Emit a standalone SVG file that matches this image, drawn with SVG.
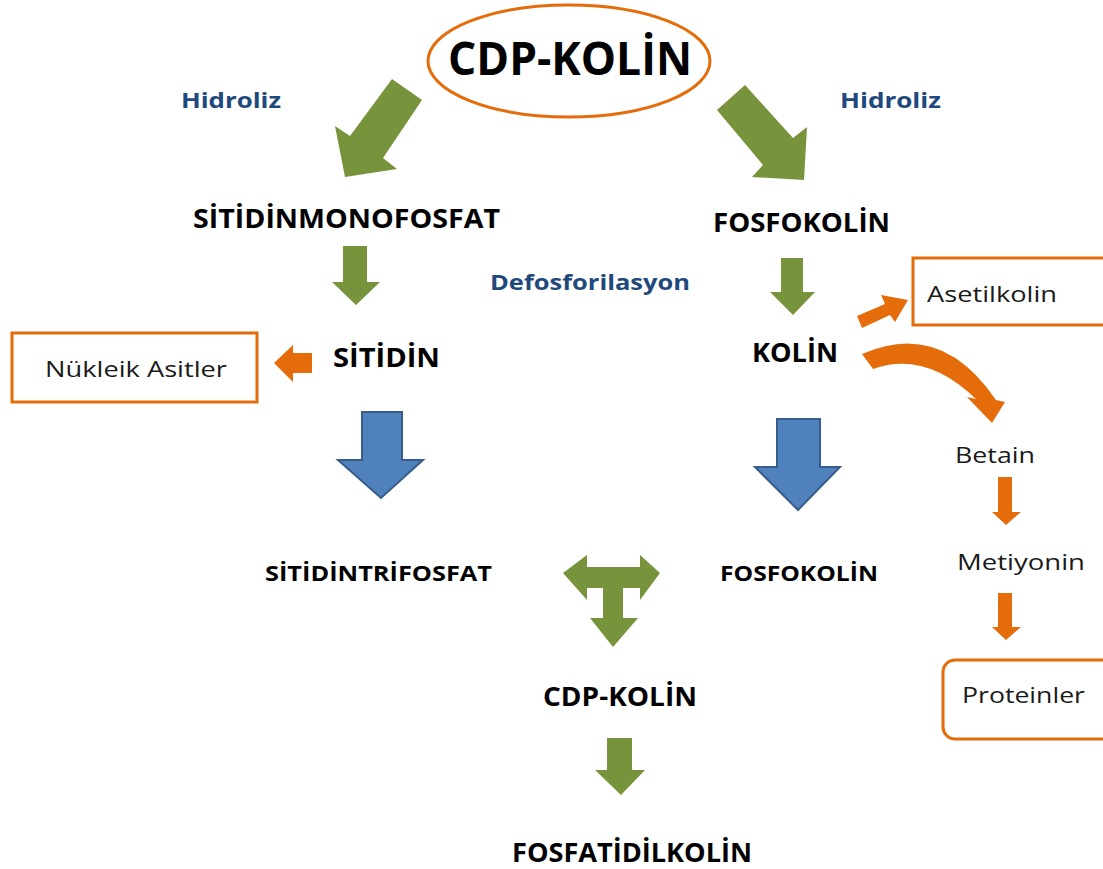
<svg xmlns="http://www.w3.org/2000/svg" width="1103" height="869" viewBox="0 0 1103 869">
<style>
.b{font-family:"Open Sans","Liberation Sans",sans-serif;font-weight:bold;fill:#000}
.h{font-family:"Open Sans","Liberation Sans",sans-serif;font-weight:bold;fill:#1f497d;font-size:22px}
.r{font-family:"Open Sans","Liberation Sans",sans-serif;fill:#1a1a1a;font-size:22px}
.box{fill:#fff;stroke:#e46c0a;stroke-width:3}
.g{fill:#77933c}
.bl{fill:#4f81bd;stroke:#385d8a;stroke-width:2}
.o{fill:#e46c0a}
</style>
<rect width="1103" height="869" fill="#fff"/>
<g id="connectors">
  <polygon class="g" points="345,177 335,126 350,136 392,79 422,100 383,158 397,169"/>
  <polygon class="g" points="745,85 793,138 807,127 804,180 752,177 763,165 717,110"/>
  <polygon class="g" points="343,246 367,246 367,282 380,282 356,305 332,282 343,282"/>
  <polygon class="g" points="781,258 803,258 803,292 815,292 793,315 770,292 781,292"/>
  <polygon class="bl" points="362,412 402,412 402,460 423,460 381,498 338,460 362,460"/>
  <polygon class="bl" points="777,419 820,419 820,467 840,467 798,510 755,467 777,467"/>
  <polygon class="g" points="563,573 587,555 587,567 640,567 640,555 660,573 640,600 640,588 623,588 623,618 638,618 613,647 590,618 603,618 603,588 587,588 587,600"/>
  <polygon class="g" points="607,738 632,738 632,770 645,770 621,795 595,770 607,770"/>
  <polygon class="o" points="274,363 293,345 293,353 312,353 312,373 293,373 293,382"/>
  <polygon class="o" points="857,316 885,304 881,295 908,300 895,322 890,315 862,328"/>
  <path class="o" d="M862,354 Q941,319 996,400 L1005,402 L992,423 L967,397 L976,399 Q925,350 873,369 Z"/>
  <polygon class="o" points="998,477 1012,477 1012,512 1021,512 1006,525 992,512 998,512"/>
  <polygon class="o" points="998,593 1012,593 1012,627 1021,627 1006,640 992,627 998,627"/>
</g>
<g id="cdp-kolin-top">
  <ellipse cx="569" cy="61" rx="141" ry="56" fill="#fff" stroke="#e46c0a" stroke-width="3"/>
  <text class="b" x="448" y="75" font-size="46" textLength="244" lengthAdjust="spacingAndGlyphs">CDP-KOLİN</text>
</g>
<g id="hidroliz-left"><text class="h" x="181" y="108" textLength="100" lengthAdjust="spacingAndGlyphs">Hidroliz</text></g>
<g id="hidroliz-right"><text class="h" x="840" y="108" textLength="101" lengthAdjust="spacingAndGlyphs">Hidroliz</text></g>
<g id="sitidinmonofosfat"><text class="b" x="193" y="228" font-size="26" textLength="307" lengthAdjust="spacingAndGlyphs">SİTİDİNMONOFOSFAT</text></g>
<g id="fosfokolin-1"><text class="b" x="713" y="232" font-size="26" textLength="177" lengthAdjust="spacingAndGlyphs">FOSFOKOLİN</text></g>
<g id="defosforilasyon"><text class="h" x="490" y="290" textLength="200" lengthAdjust="spacingAndGlyphs">Defosforilasyon</text></g>
<g id="asetilkolin">
  <rect class="box" x="913" y="258" width="195" height="67"/>
  <text class="r" x="927" y="302" font-size="24" textLength="130" lengthAdjust="spacingAndGlyphs">Asetilkolin</text>
</g>
<g id="sitidin"><text class="b" x="333" y="367" font-size="26" textLength="107" lengthAdjust="spacingAndGlyphs">SİTİDİN</text></g>
<g id="kolin"><text class="b" x="752" y="362" font-size="26" textLength="86" lengthAdjust="spacingAndGlyphs">KOLİN</text></g>
<g id="nukleik-asitler">
  <rect class="box" x="12" y="333" width="245" height="69"/>
  <text class="r" x="45" y="377" textLength="182" lengthAdjust="spacingAndGlyphs">Nükleik Asitler</text>
</g>
<g id="betain"><text class="r" x="955" y="463" textLength="80" lengthAdjust="spacingAndGlyphs">Betain</text></g>
<g id="sitidintrifosfat"><text class="b" x="265" y="581" font-size="22" textLength="227" lengthAdjust="spacingAndGlyphs">SİTİDİNTRİFOSFAT</text></g>
<g id="fosfokolin-2"><text class="b" x="720" y="581" font-size="22" textLength="158" lengthAdjust="spacingAndGlyphs">FOSFOKOLİN</text></g>
<g id="metiyonin"><text class="r" x="957" y="570" textLength="128" lengthAdjust="spacingAndGlyphs">Metiyonin</text></g>
<g id="cdp-kolin-2"><text class="b" x="543" y="706" font-size="26" textLength="154" lengthAdjust="spacingAndGlyphs">CDP-KOLİN</text></g>
<g id="proteinler">
  <rect class="box" x="943" y="660" width="175" height="79" rx="12"/>
  <text class="r" x="962" y="703" font-size="23" textLength="123" lengthAdjust="spacingAndGlyphs">Proteinler</text>
</g>
<g id="fosfatidilkolin"><text class="b" x="512" y="862" font-size="26" textLength="240" lengthAdjust="spacingAndGlyphs">FOSFATİDİLKOLİN</text></g>
</svg>
